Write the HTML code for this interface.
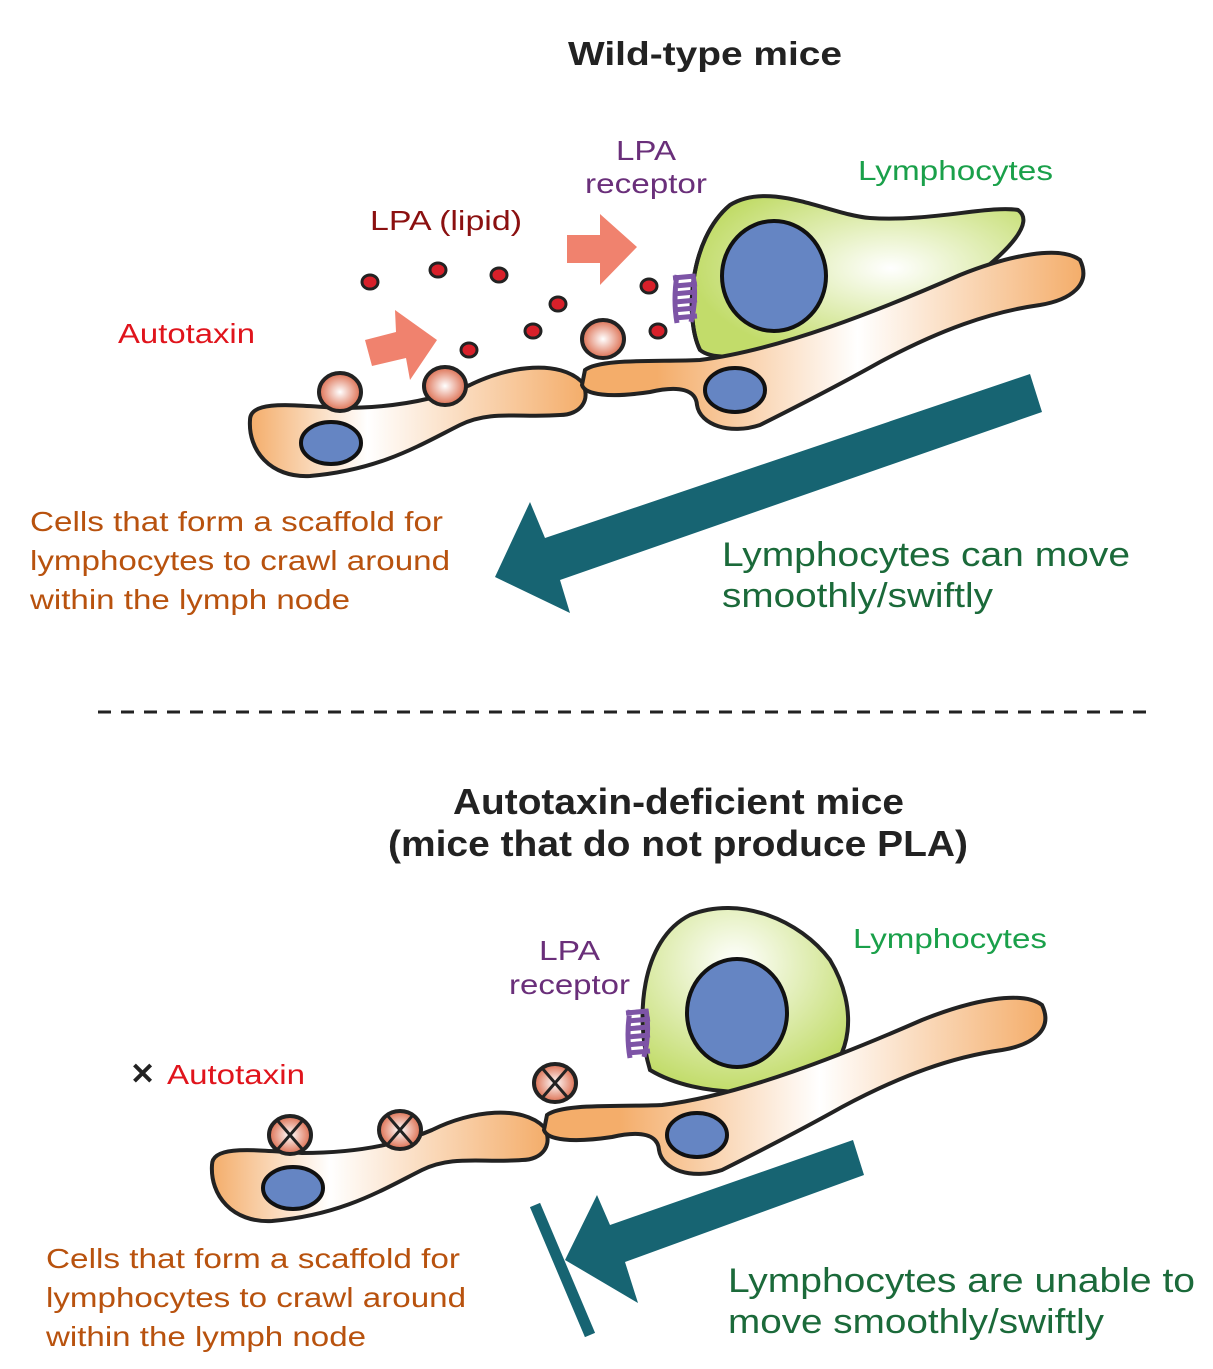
<!DOCTYPE html>
<html><head><meta charset="utf-8"><style>
body{margin:0;background:#fff}
svg{display:block}
text{font-family:"Liberation Sans",sans-serif}
</style></head><body>
<svg width="1213" height="1369" viewBox="0 0 1213 1369" xmlns="http://www.w3.org/2000/svg">
<defs>
<linearGradient id="sc" x1="0" x2="1" y1="0" y2="0">
<stop offset="0" stop-color="#f4ad6a"/><stop offset="0.35" stop-color="#fff"/><stop offset="1" stop-color="#f4ad6a"/></linearGradient>
<linearGradient id="sc2" x1="0" x2="1" y1="0" y2="0">
<stop offset="0" stop-color="#f4ad6a"/><stop offset="0.15" stop-color="#f4ad6a"/><stop offset="0.55" stop-color="#fff"/><stop offset="1" stop-color="#f4ad6a"/></linearGradient>
<radialGradient id="ly" cx="0.6" cy="0.45" r="0.6"><stop offset="0" stop-color="#fff"/><stop offset="1" stop-color="#c2dc6a"/></radialGradient>
<radialGradient id="ly2" cx="0.45" cy="0.3" r="0.7"><stop offset="0" stop-color="#fff"/><stop offset="1" stop-color="#c2dc6a"/></radialGradient>
<radialGradient id="ball" cx="0.5" cy="0.5" r="0.55"><stop offset="0" stop-color="#fff"/><stop offset="1" stop-color="#d9603f"/></radialGradient>
<g id="scaf">
<path d="M250,420 C250,400 290,405 340,408 C400,408 440,398 470,385 C510,365 560,360 582,382 C592,400 580,415 560,415 C520,418 490,410 460,425 C420,445 380,470 310,476 C270,478 248,450 250,420 Z" fill="url(#sc)" stroke="#222" stroke-width="4"/>
<ellipse cx="331" cy="443" rx="30" ry="21" fill="#6585c3" stroke="#111" stroke-width="4"/>
<path d="M585,370 C600,358 660,362 700,360 C780,350 880,310 960,275 C1010,255 1060,245 1080,260 C1092,285 1070,300 1040,305 C990,312 940,330 880,362 C830,390 790,410 760,425 C730,435 700,425 697,405 C696,390 680,385 650,392 C610,398 585,395 582,385 Z" fill="url(#sc2)" stroke="#222" stroke-width="4"/>
<ellipse cx="735" cy="390" rx="30" ry="22" fill="#6585c3" stroke="#111" stroke-width="4"/>
</g>
<g id="rec" fill="none" stroke="#7d54a6" stroke-width="5">
<path d="M0,0 l22,-2 M2,8 l22,-2 M0,16 l22,-2 M2,24 l22,-2 M0,32 l22,-2 M2,40 l22,-2 M4,-3 q-4,25 0,48 M20,-4 q4,25 -2,48"/>
</g>
</defs>

<!-- TOP -->
<text x="568" y="65" font-size="33" font-weight="bold" textLength="274" lengthAdjust="spacingAndGlyphs" fill="#222">Wild-type mice</text>
<text x="616" y="160" font-size="28" textLength="60" lengthAdjust="spacingAndGlyphs" fill="#6a2f7a">LPA</text>
<text x="585" y="193" font-size="28" textLength="122" lengthAdjust="spacingAndGlyphs" fill="#6a2f7a">receptor</text>
<text x="858" y="180" font-size="28" textLength="195" lengthAdjust="spacingAndGlyphs" fill="#1aa04a">Lymphocytes</text>
<text x="370" y="230" font-size="28" textLength="152" lengthAdjust="spacingAndGlyphs" fill="#8b1010">LPA (lipid)</text>
<text x="118" y="343" font-size="28" textLength="137" lengthAdjust="spacingAndGlyphs" fill="#e0141c">Autotaxin</text>

<path d="M700,350 C685,320 688,240 730,205 C770,180 830,215 870,218 C930,222 990,205 1018,210 C1035,222 1010,250 970,280 C920,310 850,330 780,348 C740,358 712,360 700,350 Z" fill="url(#ly)" stroke="#222" stroke-width="4"/>
<use href="#scaf"/>
<path d="M700,350 C685,320 688,240 730,205" fill="none" stroke="#222" stroke-width="4"/>
<ellipse cx="774" cy="276" rx="52" ry="55" fill="#6585c3" stroke="#111" stroke-width="4"/>
<use href="#rec" x="673" y="278"/>

<g fill="url(#ball)" stroke="#222" stroke-width="4">
<ellipse cx="340" cy="392" rx="21" ry="19"/><ellipse cx="445" cy="386" rx="21" ry="19"/><ellipse cx="603" cy="339" rx="21" ry="19"/>
</g>
<g fill="#d8202a" stroke="#222" stroke-width="3">
<ellipse cx="370" cy="282" rx="8" ry="7"/><ellipse cx="438" cy="270" rx="8" ry="7"/><ellipse cx="499" cy="275" rx="8" ry="7"/><ellipse cx="558" cy="304" rx="8" ry="7"/><ellipse cx="533" cy="331" rx="8" ry="7"/><ellipse cx="469" cy="350" rx="8" ry="7"/><ellipse cx="649" cy="286" rx="8" ry="7"/><ellipse cx="658" cy="331" rx="8" ry="7"/>
</g>
<g fill="#f0826e">
<polygon points="365,340 396,332 395,310 437,340 410,380 406,358 372,366"/>
<polygon points="567,235 600,235 600,214 637,247 600,285 600,263 567,263"/>
</g>
<polygon points="1030,374 1042,412 560,580 570,613 495,577 530,502 545,538" fill="#176472"/>

<text x="30" y="531" font-size="28" textLength="413" lengthAdjust="spacingAndGlyphs" fill="#b8520e">Cells that form a scaffold for</text>
<text x="30" y="570" font-size="28" textLength="420" lengthAdjust="spacingAndGlyphs" fill="#b8520e">lymphocytes to crawl around</text>
<text x="30" y="609" font-size="28" textLength="320" lengthAdjust="spacingAndGlyphs" fill="#b8520e">within the lymph node</text>
<text x="722" y="566" font-size="34" textLength="408" lengthAdjust="spacingAndGlyphs" fill="#1b6a3a">Lymphocytes can move</text>
<text x="722" y="607" font-size="34" textLength="271" lengthAdjust="spacingAndGlyphs" fill="#1b6a3a">smoothly/swiftly</text>

<line x1="98" y1="712" x2="1150" y2="712" stroke="#222" stroke-width="3" stroke-dasharray="13,10"/>

<!-- BOTTOM -->
<text x="453" y="814" font-size="36" font-weight="bold" textLength="451" lengthAdjust="spacingAndGlyphs" fill="#222">Autotaxin-deficient mice</text>
<text x="388" y="856" font-size="36" font-weight="bold" textLength="580" lengthAdjust="spacingAndGlyphs" fill="#222">(mice that do not produce PLA)</text>
<text x="539" y="960" font-size="28" textLength="61" lengthAdjust="spacingAndGlyphs" fill="#6a2f7a">LPA</text>
<text x="509" y="994" font-size="28" textLength="121" lengthAdjust="spacingAndGlyphs" fill="#6a2f7a">receptor</text>
<text x="853" y="948" font-size="28" textLength="194" lengthAdjust="spacingAndGlyphs" fill="#1aa04a">Lymphocytes</text>
<text x="130" y="1084" font-size="30" font-weight="bold" fill="#222">✕</text>
<text x="167" y="1084" font-size="28" textLength="138" lengthAdjust="spacingAndGlyphs" fill="#e0141c">Autotaxin</text>

<path d="M650,1070 C635,1020 640,940 690,915 C740,895 800,920 830,960 C860,1010 850,1060 820,1080 C780,1095 700,1100 650,1070 Z" fill="url(#ly2)" stroke="#222" stroke-width="4"/>
<use href="#scaf" transform="translate(-38,745)"/>
<ellipse cx="737" cy="1013" rx="50" ry="54" fill="#6585c3" stroke="#111" stroke-width="4"/>
<use href="#rec" x="626" y="1013"/>
<g stroke="#222" stroke-width="4">
<g fill="url(#ball)"><ellipse cx="290" cy="1135" rx="21" ry="19"/><ellipse cx="400" cy="1130" rx="21" ry="19"/><ellipse cx="555" cy="1083" rx="21" ry="19"/></g>
<path d="M277,1120 l26,30 M303,1120 l-26,30 M387,1115 l26,30 M413,1115 l-26,30 M542,1068 l26,30 M568,1068 l-26,30" stroke-width="3"/>
</g>
<polygon points="853,1140 864,1175 625,1262 638,1303 565,1260 597,1195 610,1225" fill="#176472"/>
<line x1="535" y1="1205" x2="590" y2="1335" stroke="#176472" stroke-width="11"/>

<text x="46" y="1268" font-size="28" textLength="414" lengthAdjust="spacingAndGlyphs" fill="#b8520e">Cells that form a scaffold for</text>
<text x="46" y="1307" font-size="28" textLength="420" lengthAdjust="spacingAndGlyphs" fill="#b8520e">lymphocytes to crawl around</text>
<text x="46" y="1346" font-size="28" textLength="320" lengthAdjust="spacingAndGlyphs" fill="#b8520e">within the lymph node</text>
<text x="728" y="1292" font-size="34" textLength="467" lengthAdjust="spacingAndGlyphs" fill="#1b6a3a">Lymphocytes are unable to</text>
<text x="728" y="1333" font-size="34" textLength="376" lengthAdjust="spacingAndGlyphs" fill="#1b6a3a">move smoothly/swiftly</text>
</svg>
</body></html>
